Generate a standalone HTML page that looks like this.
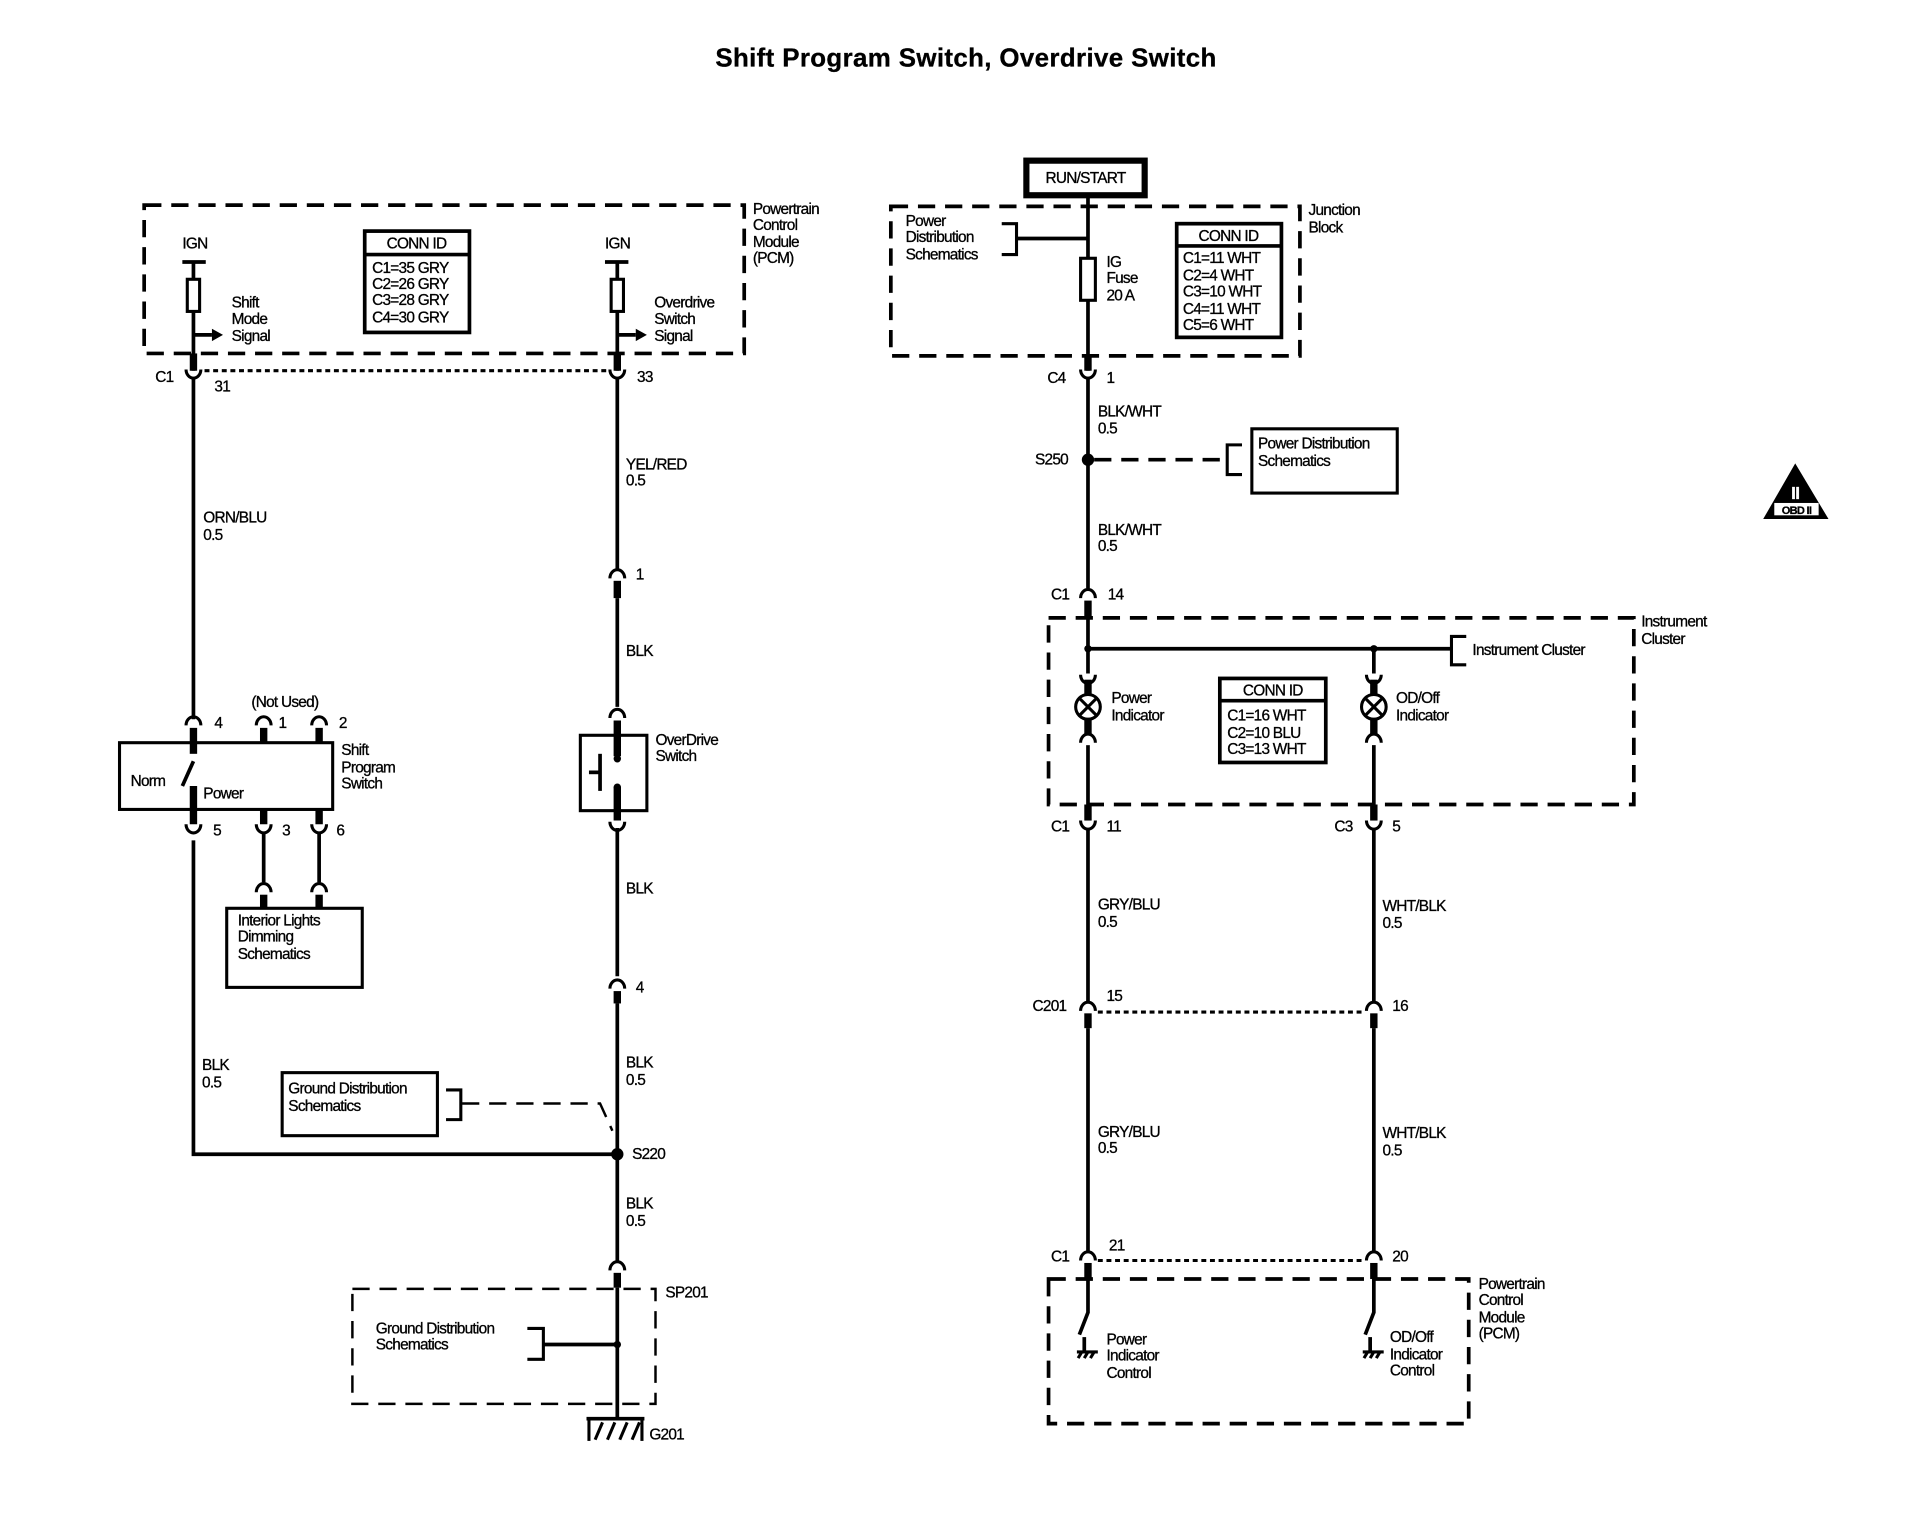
<!DOCTYPE html>
<html><head><meta charset="utf-8"><style>
html,body{margin:0;padding:0;background:#fff}
svg{display:block}
text{font-family:"Liberation Sans",Arial,sans-serif;font-size:12.5px;fill:#000;letter-spacing:-0.6px;stroke:#000;stroke-width:0.25px}
.t{font-weight:bold;font-size:21px;letter-spacing:0.3px}
.w{stroke:#000;stroke-width:3;fill:none}
.th{stroke:#000;stroke-width:6;fill:none}
.d{stroke:#000;stroke-width:3;fill:none;stroke-dasharray:14 8}
.dt{stroke:#000;stroke-width:2.5;fill:none;stroke-dasharray:4 3}
.b{stroke:#000;stroke-width:2.5;fill:#fff}
.a{stroke:#000;stroke-width:2.5;fill:none}
</style></head><body>
<svg width="1932" height="1520" viewBox="0 0 1568 1230" preserveAspectRatio="none" xmlns="http://www.w3.org/2000/svg">
<text class="t" x="784" y="54" text-anchor="middle">Shift Program Switch, Overdrive Switch</text>

<rect class="d" x="117" y="166" width="487" height="120"/>
<text x="611" y="173">Powertrain</text><text x="611" y="186">Control</text><text x="611" y="200">Module</text><text x="611" y="213">(PCM)</text>
<text x="148" y="201">IGN</text><text x="491" y="201">IGN</text>
<line class="w" x1="148" y1="212" x2="167" y2="212"/><line class="w" x1="491" y1="212" x2="510" y2="212"/>
<line class="w" x1="157" y1="212" x2="157" y2="300"/><line class="w" x1="501" y1="212" x2="501" y2="300"/>
<rect class="b" x="152" y="226" width="10" height="26"/><rect class="b" x="496" y="226" width="10" height="26"/>
<line class="w" x1="157" y1="271" x2="172" y2="271"/><polygon points="172,266 181,271 172,276"/>
<line class="w" x1="501" y1="271" x2="516" y2="271"/><polygon points="516,266 525,271 516,276"/>
<text x="188" y="249">Shift</text><text x="188" y="262">Mode</text><text x="188" y="276">Signal</text>
<text x="531" y="249">Overdrive</text><text x="531" y="262">Switch</text><text x="531" y="276">Signal</text>
<rect x="296" y="187" width="85" height="82" fill="#fff" stroke="#000" stroke-width="3"/>
<line class="w" x1="296" y1="206" x2="381" y2="206"/>
<text x="338" y="201" text-anchor="middle">CONN ID</text>
<text x="302" y="221">C1=35 GRY</text><text x="302" y="234">C2=26 GRY</text><text x="302" y="247">C3=28 GRY</text><text x="302" y="261">C4=30 GRY</text>

<line class="th" x1="157" y1="286" x2="157" y2="300"/><line class="th" x1="501" y1="286" x2="501" y2="300"/>
<path class="a" d="M151,299 A6,7 0 0 0 163,299"/><path class="a" d="M495,299 A6,7 0 0 0 507,299"/>
<line class="dt" x1="166" y1="300" x2="494" y2="300"/>
<text x="126" y="309">C1</text><text x="174" y="317">31</text><text x="517" y="309">33</text>
<line class="w" x1="157" y1="306" x2="157" y2="582"/>
<text x="165" y="423">ORN/BLU</text><text x="165" y="437">0.5</text>
<line class="w" x1="501" y1="306" x2="501" y2="462"/>
<text x="508" y="380">YEL/RED</text><text x="508" y="393">0.5</text>
<path class="a" d="M495,468 A6,7 0 0 1 507,468"/><line class="th" x1="501" y1="470" x2="501" y2="484"/>
<text x="516" y="469">1</text>
<line class="w" x1="501" y1="484" x2="501" y2="572"/>
<text x="508" y="531">BLK</text>
<path class="a" d="M495,581 A6,7 0 0 1 507,581"/><line class="th" x1="501" y1="583" x2="501" y2="612"/>
<rect class="a" x="471" y="595" width="54" height="61"/>
<circle cx="501" cy="614" r="3"/><circle cx="501" cy="637" r="3"/>
<line class="w" x1="487" y1="610" x2="487" y2="640"/><line class="w" x1="478" y1="625" x2="487" y2="625"/>
<line class="th" x1="501" y1="637" x2="501" y2="664"/>
<path class="a" d="M495,665 A6,7 0 0 0 507,665"/>
<text x="532" y="603">OverDrive</text><text x="532" y="616">Switch</text>
<line class="w" x1="501" y1="670" x2="501" y2="790"/>
<text x="508" y="723">BLK</text>
<path class="a" d="M495,800 A6,7 0 0 1 507,800"/><line class="th" x1="501" y1="802" x2="501" y2="812"/>
<text x="516" y="803">4</text>
<line class="w" x1="501" y1="812" x2="501" y2="1020"/>
<text x="508" y="864">BLK</text><text x="508" y="878">0.5</text>
<circle cx="501" cy="934" r="5"/><text x="513" y="938">S220</text>
<polyline class="w" points="157,680 157,934 501,934"/>
<text x="164" y="866">BLK</text><text x="164" y="880">0.5</text>
<rect class="b" x="229" y="868" width="126" height="51"/>
<text x="234" y="885">Ground Distribution</text><text x="234" y="899">Schematics</text>
<polyline class="a" points="362,882 374,882 374,906 362,906"/>
<polyline class="d" style="stroke-width:2" points="375,893 487,893 497,915"/>
<text x="508" y="978">BLK</text><text x="508" y="992">0.5</text>
<path class="a" d="M495,1028 A6,7 0 0 1 507,1028"/><line class="th" x1="501" y1="1030" x2="501" y2="1042"/>
<rect class="d" style="stroke-width:2" x="286" y="1043" width="246" height="93"/>
<text x="540" y="1050">SP201</text>
<text x="305" y="1079">Ground Distribution</text><text x="305" y="1092">Schematics</text>
<polyline class="a" points="428,1075 441,1075 441,1100 428,1100"/>
<line class="w" x1="441" y1="1088" x2="501" y2="1088"/><circle cx="501" cy="1088" r="3"/>
<line class="w" x1="501" y1="1042" x2="501" y2="1148"/>
<line class="w" x1="476" y1="1148" x2="523" y2="1148"/>
<polyline class="a" points="478,1166 478,1148"/><polyline class="a" points="521,1166 521,1148"/>
<line class="a" x1="483" y1="1165" x2="489" y2="1151"/><line class="a" x1="493" y1="1165" x2="499" y2="1151"/><line class="a" x1="503" y1="1165" x2="509" y2="1151"/><line class="a" x1="513" y1="1165" x2="519" y2="1151"/>
<text x="527" y="1165">G201</text>

<path class="a" d="M151,587 A6,7 0 0 1 163,587"/><path class="a" d="M208,587 A6,7 0 0 1 220,587"/><path class="a" d="M253,587 A6,7 0 0 1 265,587"/>
<line class="th" x1="157" y1="589" x2="157" y2="610"/><line class="th" x1="214" y1="589" x2="214" y2="601"/><line class="th" x1="259" y1="589" x2="259" y2="601"/>
<text x="174" y="589">4</text><text x="204" y="572">(Not Used)</text><text x="226" y="589">1</text><text x="275" y="589">2</text>
<rect class="a" x="97" y="601" width="173" height="54"/>
<line class="w" x1="148" y1="636" x2="157" y2="616"/>
<text x="106" y="636">Norm</text><text x="165" y="646">Power</text>
<text x="277" y="611">Shift</text><text x="277" y="625">Program</text><text x="277" y="638">Switch</text>
<line class="th" x1="157" y1="636" x2="157" y2="667"/><line class="th" x1="214" y1="655" x2="214" y2="667"/><line class="th" x1="259" y1="655" x2="259" y2="667"/>
<path class="a" d="M151,667 A6,7 0 0 0 163,667"/><path class="a" d="M208,667 A6,7 0 0 0 220,667"/><path class="a" d="M253,667 A6,7 0 0 0 265,667"/>
<text x="173" y="676">5</text><text x="229" y="676">3</text><text x="273" y="676">6</text>
<line class="w" x1="214" y1="673" x2="214" y2="714"/><line class="w" x1="259" y1="673" x2="259" y2="714"/>
<path class="a" d="M208,722 A6,7 0 0 1 220,722"/><path class="a" d="M253,722 A6,7 0 0 1 265,722"/>
<line class="th" x1="214" y1="724" x2="214" y2="735"/><line class="th" x1="259" y1="724" x2="259" y2="735"/>
<rect class="b" x="184" y="735" width="110" height="64"/>
<text x="193" y="749">Interior Lights</text><text x="193" y="762">Dimming</text><text x="193" y="776">Schematics</text>

<rect x="833" y="130" width="96" height="28" fill="#fff" stroke="#000" stroke-width="5"/>
<text x="881" y="148" text-anchor="middle">RUN/START</text>
<rect class="d" x="723" y="167" width="332" height="121"/>
<text x="1062" y="174">Junction</text><text x="1062" y="188">Block</text>
<text x="735" y="183">Power</text><text x="735" y="196">Distribution</text><text x="735" y="210">Schematics</text>
<polyline class="a" points="813,181 825,181 825,206 813,206"/>
<line class="w" x1="825" y1="193" x2="883" y2="193"/>
<line class="w" x1="883" y1="158" x2="883" y2="300"/>
<rect class="b" x="877" y="209" width="12" height="34"/>
<text x="898" y="216">IG</text><text x="898" y="229">Fuse</text><text x="898" y="243">20 A</text>
<rect x="955" y="181" width="85" height="92" fill="#fff" stroke="#000" stroke-width="3"/>
<line class="w" x1="955" y1="199" x2="1040" y2="199"/>
<text x="997" y="195" text-anchor="middle">CONN ID</text>
<text x="960" y="213">C1=11 WHT</text><text x="960" y="227">C2=4 WHT</text><text x="960" y="240">C3=10 WHT</text><text x="960" y="254">C4=11 WHT</text><text x="960" y="267">C5=6 WHT</text>
<line class="th" x1="883" y1="288" x2="883" y2="300"/>
<path class="a" d="M877,299 A6,7 0 0 0 889,299"/>
<text x="850" y="310">C4</text><text x="898" y="310">1</text>
<line class="w" x1="883" y1="305" x2="883" y2="476"/>
<text x="891" y="337">BLK/WHT</text><text x="891" y="351">0.5</text>
<circle cx="883" cy="372" r="5"/><text x="840" y="376">S250</text>
<line class="d" style="stroke-width:3" x1="888" y1="372" x2="992" y2="372"/>
<polyline class="a" points="1008,360 996,360 996,384 1008,384"/>
<rect class="b" x="1016" y="347" width="118" height="52"/>
<text x="1021" y="363">Power Distribution</text><text x="1021" y="377">Schematics</text>
<text x="891" y="433">BLK/WHT</text><text x="891" y="446">0.5</text>
<path class="a" d="M877,484 A6,7 0 0 1 889,484"/><line class="th" x1="883" y1="486" x2="883" y2="500"/>
<text x="853" y="485">C1</text><text x="899" y="485">14</text>
<rect class="d" x="851" y="500" width="475" height="151"/>
<text x="1332" y="507">Instrument</text><text x="1332" y="521">Cluster</text>
<line class="w" x1="883" y1="500" x2="883" y2="545"/>
<line class="w" x1="883" y1="525" x2="1178" y2="525"/>
<circle cx="883" cy="525" r="3"/><circle cx="1115" cy="525" r="3"/>
<polyline class="a" points="1190,515 1178,515 1178,538 1190,538"/>
<text x="1195" y="530">Instrument Cluster</text>
<line class="w" x1="1115" y1="525" x2="1115" y2="545"/>
<g>
<path class="a" d="M877,546 A6,7 0 0 0 889,546"/><line class="th" x1="883" y1="550" x2="883" y2="562"/>
<circle class="a" cx="883" cy="572" r="10"/><line class="a" x1="876" y1="565" x2="890" y2="579"/><line class="a" x1="890" y1="565" x2="876" y2="579"/>
<line class="th" x1="883" y1="582" x2="883" y2="594"/><path class="a" d="M877,601 A6,7 0 0 1 889,601"/>
<path class="a" d="M1109,546 A6,7 0 0 0 1121,546"/><line class="th" x1="1115" y1="550" x2="1115" y2="562"/>
<circle class="a" cx="1115" cy="572" r="10"/><line class="a" x1="1108" y1="565" x2="1122" y2="579"/><line class="a" x1="1122" y1="565" x2="1108" y2="579"/>
<line class="th" x1="1115" y1="582" x2="1115" y2="594"/><path class="a" d="M1109,601 A6,7 0 0 1 1121,601"/>
</g>
<text x="902" y="569">Power</text><text x="902" y="583">Indicator</text>
<text x="1133" y="569">OD/Off</text><text x="1133" y="583">Indicator</text>
<rect x="990" y="549" width="86" height="68" fill="#fff" stroke="#000" stroke-width="3"/>
<line class="w" x1="990" y1="567" x2="1076" y2="567"/>
<text x="1033" y="563" text-anchor="middle">CONN ID</text>
<text x="996" y="583">C1=16 WHT</text><text x="996" y="597">C2=10 BLU</text><text x="996" y="610">C3=13 WHT</text>
<line class="w" x1="883" y1="603" x2="883" y2="652"/><line class="w" x1="1115" y1="603" x2="1115" y2="652"/>
<line class="th" x1="883" y1="651" x2="883" y2="664"/><line class="th" x1="1115" y1="651" x2="1115" y2="664"/>
<path class="a" d="M877,664 A6,7 0 0 0 889,664"/><path class="a" d="M1109,664 A6,7 0 0 0 1121,664"/>
<text x="853" y="673">C1</text><text x="898" y="673">11</text><text x="1083" y="673">C3</text><text x="1130" y="673">5</text>
<line class="w" x1="883" y1="670" x2="883" y2="810"/><line class="w" x1="1115" y1="670" x2="1115" y2="810"/>
<text x="891" y="736">GRY/BLU</text><text x="891" y="750">0.5</text>
<text x="1122" y="737">WHT/BLK</text><text x="1122" y="751">0.5</text>
<path class="a" d="M877,818 A6,7 0 0 1 889,818"/><path class="a" d="M1109,818 A6,7 0 0 1 1121,818"/>
<line class="th" x1="883" y1="820" x2="883" y2="832"/><line class="th" x1="1115" y1="820" x2="1115" y2="832"/>
<line class="dt" x1="891" y1="819" x2="1108" y2="819"/>
<text x="838" y="818">C201</text><text x="898" y="810">15</text><text x="1130" y="818">16</text>
<line class="w" x1="883" y1="832" x2="883" y2="1012"/><line class="w" x1="1115" y1="832" x2="1115" y2="1012"/>
<text x="891" y="920">GRY/BLU</text><text x="891" y="933">0.5</text>
<text x="1122" y="921">WHT/BLK</text><text x="1122" y="935">0.5</text>
<path class="a" d="M877,1020 A6,7 0 0 1 889,1020"/><path class="a" d="M1109,1020 A6,7 0 0 1 1121,1020"/>
<line class="th" x1="883" y1="1022" x2="883" y2="1035"/><line class="th" x1="1115" y1="1022" x2="1115" y2="1035"/>
<line class="dt" x1="891" y1="1020" x2="1108" y2="1020"/>
<text x="853" y="1021">C1</text><text x="900" y="1012">21</text><text x="1130" y="1021">20</text>
<rect class="d" x="851" y="1035" width="341" height="117"/>
<text x="1200" y="1043">Powertrain</text><text x="1200" y="1056">Control</text><text x="1200" y="1070">Module</text><text x="1200" y="1083">(PCM)</text>
<polyline class="w" points="883,1035 883,1062 876,1080"/>
<polyline class="w" points="1115,1035 1115,1062 1108,1080"/>
<line class="w" x1="880" y1="1082" x2="880" y2="1094"/><line class="a" x1="874" y1="1094" x2="891" y2="1094"/>
<line class="a" x1="875" y1="1099" x2="878" y2="1094"/><line class="a" x1="880" y1="1099" x2="883" y2="1094"/><line class="a" x1="885" y1="1099" x2="888" y2="1094"/>
<line class="w" x1="1112" y1="1082" x2="1112" y2="1094"/><line class="a" x1="1106" y1="1094" x2="1123" y2="1094"/>
<line class="a" x1="1107" y1="1099" x2="1110" y2="1094"/><line class="a" x1="1112" y1="1099" x2="1115" y2="1094"/><line class="a" x1="1117" y1="1099" x2="1120" y2="1094"/>
<text x="898" y="1088">Power</text><text x="898" y="1101">Indicator</text><text x="898" y="1115">Control</text>
<text x="1128" y="1086">OD/Off</text><text x="1128" y="1100">Indicator</text><text x="1128" y="1113">Control</text>

<polygon points="1457,375 1484,420 1431,420" fill="#000"/>
<rect x="1440" y="407" width="36" height="10" fill="#fff"/>
<text x="1458" y="416" text-anchor="middle" style="font-size:9px;font-weight:bold">OBD II</text>
<text x="1457" y="404" text-anchor="middle" style="font-size:14px;font-weight:bold;fill:#fff;stroke:#fff">II</text>
</svg>
</body></html>
